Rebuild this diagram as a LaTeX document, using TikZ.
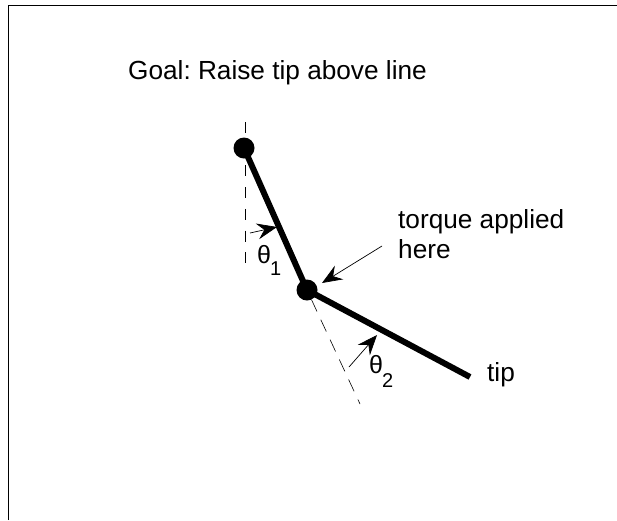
\documentclass[tikz,border=0pt]{standalone}
\usepackage{fontspec}
\setmainfont{Liberation Sans}
\frenchspacing
\usetikzlibrary{calc,arrows.meta}

\begin{document}
\begin{tikzpicture}[x=1pt, y=-1pt,
    caption/.style={inner sep=0pt, anchor=base west, font=\fontsize{26.2pt}{30pt}\selectfont},
    angle/.style={caption, font=\fontsize{25pt}{28pt}\selectfont},
    subscr/.style={caption, font=\fontsize{20pt}{24pt}\selectfont},
    link/.style={line width=6pt},
    joint/.style={circle, fill=black, inner sep=0pt, minimum size=21pt},
    guide/.style={line width=0.6pt, dash pattern=on 11pt off 10.7pt},
    arrow/.style={-{Stealth[length=20pt, width=16pt, inset=7pt]}, line width=0.7pt}
  ]
    \useasboundingbox (0,0) rectangle (617,520);
    \draw[line width=1.3pt] (8.7,520) -- (8.7,5.5) -- (617,5.5);

    \node[caption] (goal) at (128,79) {Goal: Raise tip above line};
    \node[caption] (torque) at (398,228) {torque applied};
    \node[caption] (here) at (398,258) {here};
    \node[caption] (tip) at (487,381) {tip};
    \node[angle] (t1) at (257,263) {θ};
    \node[angle] (t2) at (369,373) {θ};
    \node[subscr] (n1) at (270,275) {1};
    \node[subscr] (n2) at (382,387) {2};

    \node[joint] (shoulder) at (244,148) {};
    \node[joint] (elbow) at (307,290) {};
    \coordinate (end) at (470,377);
    \coordinate (up) at (245.5,122);
    \coordinate (down1) at (245.5,268);
    \coordinate (down2) at (360,404);
    \coordinate (arrow1) at (250,233);
    \coordinate (hit1) at (277,227);
    \coordinate (arrow2) at (349,367);
    \coordinate (hit2) at (377,335);
    \coordinate (arrow3) at (382,246);
    \coordinate (hit3) at (322,283);

    \draw[guide] (up) -- (down1);
    \draw[guide, dash pattern=on 13pt off 9pt] (elbow) -- (down2);
    \draw[link] (shoulder.center) -- (elbow.center);
    \draw[link] (elbow.center) -- (end);
    \draw[arrow] (arrow1) -- (hit1);
    \draw[arrow] (arrow2) -- (hit2);
    \draw[arrow] (arrow3) -- (hit3);
\end{tikzpicture}
\end{document}
